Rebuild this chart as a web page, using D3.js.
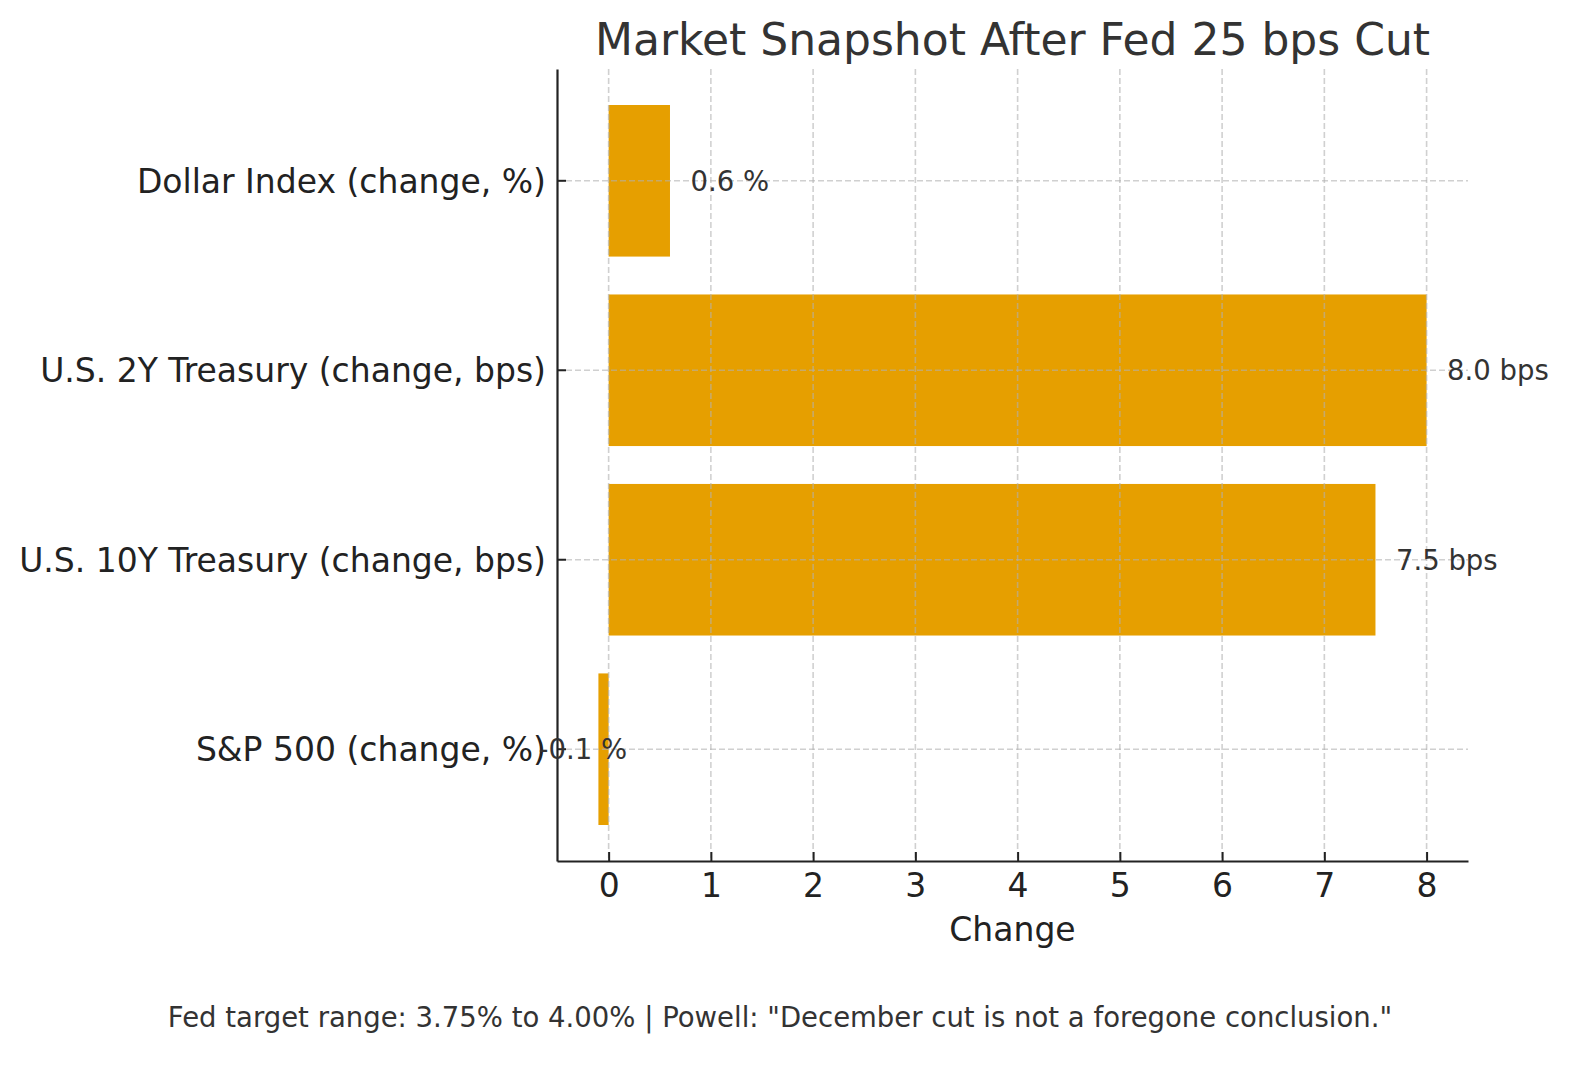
<!DOCTYPE html>
<html>
<head>
<meta charset="utf-8">
<script src="https://cdn.jsdelivr.net/npm/d3@7"></script>
<style>
  html, body { margin: 0; padding: 0; background: #fff; overflow: hidden; }
  svg { display: block; }
  text { font-family: "DejaVu Sans", sans-serif; }
</style>
</head>
<body>
<div id="chart"></div>
<script>
// data, top to bottom as drawn
const categories = ["Dollar Index (change, %)", "U.S. 2Y Treasury (change, bps)", "U.S. 10Y Treasury (change, bps)", "S&P 500 (change, %)"];
const values = [0.6, 8.0, 7.5, -0.1];
const units = ["%", "bps", "bps", "%"];
const xTicks = [0, 1, 2, 3, 4, 5, 6, 7, 8];

const W = 1587, H = 1066;
let margin = { top: 69, right: 119, bottom: 205, left: 557 },
  width = W - margin.left - margin.right,
  height = H - margin.top - margin.bottom;

let svg = d3.select("#chart").append("svg")
  .attr("width", W)
  .attr("height", H);

let g = svg.append("g")
  .attr("transform", "translate(" + margin.left + "," + margin.top + ")");

let x = d3.scaleLinear()
  .domain([-0.505, 8.405])
  .range([0, width]);

let y = d3.scaleBand()
  .domain(categories)
  .range([0, height])
  .paddingInner(0.2)
  .paddingOuter(0.19);

// bars
g.selectAll(".bar")
  .data(values)
  .enter()
  .append("rect")
  .attr("class", "bar")
  .attr("fill", "#E69F00")
  .attr("x", d => x(Math.min(0, d)))
  .attr("width", d => Math.abs(x(d) - x(0)))
  .attr("y", (d, i) => y(categories[i]))
  .attr("height", y.bandwidth());

// grid on top of bars
let grid = g.append("g").attr("class", "grid");
grid.selectAll(".vg")
  .data(xTicks)
  .enter()
  .append("line")
  .attr("x1", d => x(d)).attr("x2", d => x(d))
  .attr("y1", 0).attr("y2", height)
  .attr("stroke", "#b0b0b0")
  .attr("stroke-opacity", 0.6)
  .attr("stroke-width", 1.6)
  .attr("stroke-dasharray", "6,3");
grid.selectAll(".hg")
  .data(categories)
  .enter()
  .append("line")
  .attr("x1", 0).attr("x2", width)
  .attr("y1", d => y(d) + y.bandwidth() / 2).attr("y2", d => y(d) + y.bandwidth() / 2)
  .attr("stroke", "#b0b0b0")
  .attr("stroke-opacity", 0.6)
  .attr("stroke-width", 1.6)
  .attr("stroke-dasharray", "6,3");

// axes
let xAxis = g.append("g")
  .attr("transform", "translate(0," + height + ")")
  .call(d3.axisBottom(x).tickValues(xTicks).tickFormat(d3.format("d")).tickSizeInner(-9).tickSizeOuter(0).tickPadding(13));

let yAxis = g.append("g")
  .call(d3.axisLeft(y).tickSizeInner(-9).tickSizeOuter(0).tickPadding(11));

[xAxis, yAxis].forEach(a => {
  a.select(".domain").attr("stroke", "#222").attr("stroke-width", 2.2);
  a.selectAll(".tick line").attr("stroke", "#222").attr("stroke-width", 2);
  a.selectAll(".tick text")
    .attr("fill", "#222")
    .attr("font-size", "33px")
    .attr("font-family", "DejaVu Sans");
});
xAxis.selectAll(".tick text").attr("dy", "0.71em");
yAxis.selectAll(".tick text").attr("dy", "0.36em");

// value labels
g.selectAll(".label")
  .data(values)
  .enter()
  .append("text")
  .attr("class", "label")
  .attr("x", d => d >= 0 ? x(d + 0.2) : x(d + 0.28))
  .attr("y", (d, i) => y(categories[i]) + y.bandwidth() / 2)
  .attr("dy", "0.36em")
  .attr("text-anchor", d => d >= 0 ? "start" : "end")
  .attr("font-size", "27.5px")
  .attr("fill", "#333")
  .text((d, i) => d.toFixed(1) + " " + units[i]);

// title
svg.append("text")
  .attr("x", margin.left + width / 2)
  .attr("y", 55)
  .attr("text-anchor", "middle")
  .attr("font-size", "44px")
  .attr("fill", "#333")
  .text("Market Snapshot After Fed 25 bps Cut");

// x label
svg.append("text")
  .attr("x", margin.left + width / 2)
  .attr("y", 941)
  .attr("text-anchor", "middle")
  .attr("font-size", "33px")
  .attr("fill", "#222")
  .text("Change");

// footer
svg.append("text")
  .attr("x", 780)
  .attr("y", 1027)
  .attr("text-anchor", "middle")
  .attr("font-size", "27.5px")
  .attr("fill", "#333")
  .text('Fed target range: 3.75% to 4.00% | Powell: "December cut is not a foregone conclusion."');
</script>
</body>
</html>
